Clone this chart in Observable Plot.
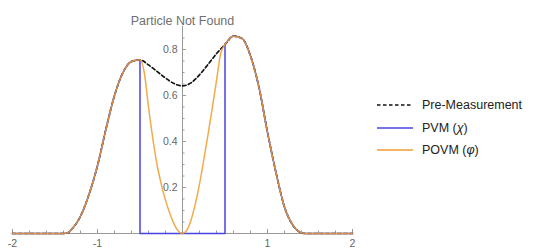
<!DOCTYPE html>
<html><head><meta charset="utf-8">
<script src="https://cdn.jsdelivr.net/npm/d3@7"></script>
<script src="https://cdn.jsdelivr.net/npm/@observablehq/plot@0.6"></script>
<style>
body{margin:0;background:#fff;font-family:"Liberation Sans",Arial,sans-serif}
#wrap{position:relative;width:540px;height:249px}
#legend{position:absolute;left:377px;top:94px;font-size:12.5px;color:#222}
.row{display:flex;align-items:center;height:22.5px;white-space:nowrap}
.row svg{margin-right:9px}
</style></head><body><div id="wrap"></div>
<script>
const title = "Particle Not Found";
const legendLabels = ["Pre-Measurement", "PVM (<i>χ</i>)", "POVM (<i>φ</i>)"];
const xMajor = [-2, -1, 0, 1, 2];
const xLabels = [-2, -1, 1, 2];
const xMinor = [-1.8,-1.6,-1.4,-1.2,-0.8,-0.6,-0.4,-0.2,0.2,0.4,0.6,0.8,1.2,1.4,1.6,1.8];
const yMajor = [0.2, 0.4, 0.6, 0.8];
const yMinor = [0.05,0.1,0.15,0.25,0.3,0.35,0.45,0.5,0.55,0.65,0.7,0.75,0.85];

const preX = [-2,-1.5,-1.4,-1.35,-1.3,-1.2,-1.1,-1.0,-0.9,-0.8,-0.7,-0.6,-0.5,-0.4,-0.3,-0.2,-0.1,0,0.1,0.2,0.3,0.4,0.5,0.6,0.7,0.8,0.9,1.0,1.1,1.2,1.3,1.4,1.45,1.5,2];
const preY = [0,0,0,0.003,0.02,0.075,0.17,0.295,0.455,0.6,0.7,0.748,0.755,0.733,0.705,0.676,0.652,0.642,0.655,0.69,0.735,0.782,0.822,0.858,0.848,0.772,0.635,0.44,0.265,0.115,0.035,0.003,0,0,0];

const pvmBoxX = [-0.5,-0.5,0.5,0.5];
const pvmBoxY = [0.755,0,0,0.822];

const povmX = [-2,-1.5,-1.4,-1.35,-1.3,-1.2,-1.1,-1.0,-0.9,-0.8,-0.7,-0.6,-0.5,-0.45,-0.4,-0.35,-0.3,-0.25,-0.2,-0.15,-0.1,-0.05,0,0.05,0.1,0.15,0.2,0.25,0.3,0.35,0.4,0.45,0.5,0.6,0.7,0.8,0.9,1.0,1.1,1.2,1.3,1.4,1.45,1.5,2];
const povmY = [0,0,0,0.003,0.02,0.075,0.17,0.295,0.455,0.6,0.7,0.748,0.755,0.70,0.55,0.415,0.3,0.215,0.145,0.088,0.042,0.011,0,0.014,0.058,0.128,0.215,0.32,0.43,0.545,0.665,0.785,0.822,0.858,0.848,0.772,0.635,0.44,0.265,0.115,0.035,0.003,0,0,0];

const blue = "#4646e0", orange = "#ef9c2c", axisColor = "#9a9a9a";

const pre = preX.map((x,i)=>({x, y: preY[i]}));
const pvmOuter = pre.filter(d=>Math.abs(d.x)>=0.5).map(d=>({...d, side: d.x<0?"L":"R"}));
const pvmBox = pvmBoxX.map((x,i)=>({x, y: pvmBoxY[i]}));
const povm = povmX.map((x,i)=>({x, y: povmY[i]}));

const chart = Plot.plot({
  width: 540, height: 249,
  marginLeft: 12, marginRight: 188, marginTop: 26, marginBottom: 16,
  x: {domain: [-2, 2], axis: null},
  y: {domain: [0, 0.9], axis: null},
  style: {fontFamily: '"Liberation Sans", Arial, sans-serif', background: "white", overflow: "visible"},
  marks: [
    Plot.ruleY([0], {stroke: axisColor}),
    Plot.ruleX([0], {stroke: axisColor}),
    Plot.ruleX(xMinor, {x: d=>d, y1: 0, y2: 0, insetTop: -2.5, stroke: axisColor}),
    Plot.ruleX(xMajor, {x: d=>d, y1: 0, y2: 0, insetTop: -4, stroke: axisColor}),
    Plot.ruleY(yMinor, {y: d=>d, x1: 0, x2: 0, insetRight: -2.5, stroke: axisColor}),
    Plot.ruleY(yMajor, {y: d=>d, x1: 0, x2: 0, insetRight: -4, stroke: axisColor}),
    Plot.text(xLabels, {x: d=>d, y: 0, dy: 10, text: d=>String(d), fill: "#666", fontSize: 10.5}),
    Plot.text(yMajor, {x: 0, y: d=>d, dx: -5, textAnchor: "end", text: d=>d.toFixed(1), fill: "#666", fontSize: 10.5}),
    Plot.text([title], {x: [0], frameAnchor: "top", dy: -10, text: d=>d, fill: "#707070", fontSize: 12.5}),
    Plot.line(pre, {x: "x", y: "y", stroke: "#111", strokeWidth: 1.7, strokeDasharray: "3.5,2.5", curve: "monotone-x"}),
    Plot.line(pvmOuter, {x: "x", y: "y", z: "side", stroke: blue, strokeWidth: 1.5, curve: "monotone-x"}),
    Plot.line(pvmBox, {x: "x", y: "y", stroke: blue, strokeWidth: 1.5}),
    Plot.line(povm, {x: "x", y: "y", stroke: orange, strokeWidth: 1.5, strokeOpacity: 0.85, curve: "monotone-x"})
  ]
});
const wrap = document.getElementById("wrap");
wrap.appendChild(chart);
const swatches = [
  `<line x1="0" y1="5" x2="36" y2="5" stroke="#111" stroke-width="1.7" stroke-dasharray="3.5,2.5"/>`,
  `<line x1="0" y1="5" x2="36" y2="5" stroke="${blue}" stroke-width="1.7"/>`,
  `<line x1="0" y1="5" x2="36" y2="5" stroke="${orange}" stroke-width="1.7"/>`
];
const leg = document.createElement("div");
leg.id = "legend";
leg.innerHTML = legendLabels.map((t,i)=>`<div class="row"><svg width="36" height="10">${swatches[i]}</svg><span>${t}</span></div>`).join("");
wrap.appendChild(leg);
</script></body></html>
